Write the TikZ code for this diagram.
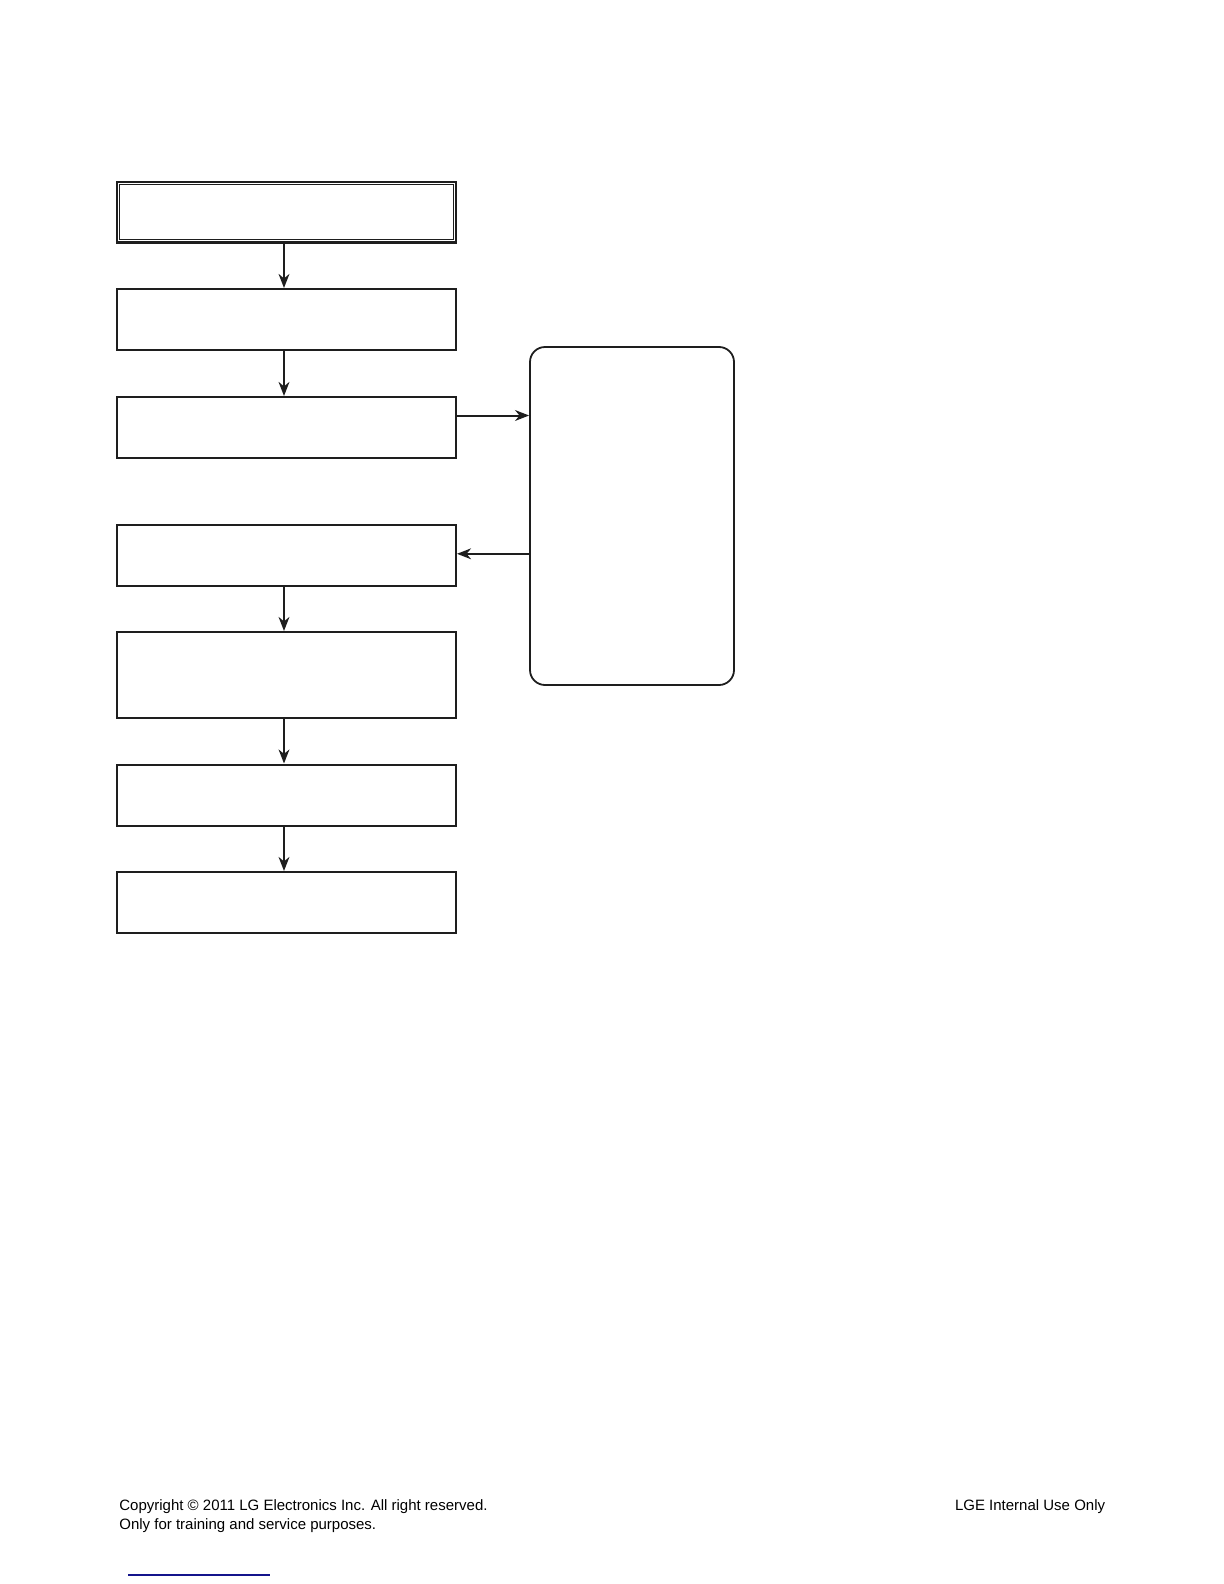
\documentclass[tikz,border=0pt]{standalone}
\usepackage{fontspec}
\setmainfont{Liberation Sans}
\usepackage{xcolor}
\usepackage{tikz}
\usetikzlibrary{positioning}
\usetikzlibrary{arrows.meta}

\definecolor{linegray}{RGB}{30,30,30}
\definecolor{linkblue}{RGB}{20,20,140}

\begin{document}
\begin{tikzpicture}
  [
    x=0.5pt, y=-0.5pt,
    stepbox/.style={
       draw=linegray,
       line width=1pt,
       minimum width=169.5pt,
       minimum height=30.5pt,
       inner sep=0pt
    },
    headbox/.style={
       stepbox,
       line width=1.1pt,
       minimum width=169.4pt,
       minimum height=30.4pt
    },
    sidebox/.style={
       draw=linegray,
       line width=0.9pt,
       rounded corners=7.5pt,
       minimum width=102pt,
       minimum height=169pt,
       inner sep=0pt
    },
    ld/.style={
       draw=linegray,
       line width=1pt,
       -{Stealth[length=7pt,width=5.4pt,inset=2.2pt]}
    },
    foot/.style={
       font=\fontsize{7.5}{9.5}\selectfont,
       inner sep=0pt
    }
  ]
  \useasboundingbox (0,0) rectangle (1224,1584);

  \node (b1) at (286.5,212)   [headbox] {};
  \node (b2) at (286.5,319.5) [stepbox] {};
  \node (b3) at (286.5,427.5) [stepbox] {};
  \node (b4) at (286.5,555)   [stepbox] {};
  \node (b5) at (286.5,675)   [stepbox, minimum height=43pt] {};
  \node (b6) at (286.5,795)   [stepbox] {};
  \node (b7) at (286.5,902.5) [stepbox] {};
  \node (rb) at (632,516)     [sidebox] {};

  % inner line of the double frame
  \draw [linegray, line width=0.5pt]
    ([shift={(1.9pt,-1.9pt)}]b1.north west) rectangle ([shift={(-1.9pt,1.9pt)}]b1.south east);

  \draw [ld] ([xshift=-1.25pt]b1.south) -- ([xshift=-1.25pt]b2.north);
  \draw [ld] ([xshift=-1.25pt]b2.south) -- ([xshift=-1.25pt]b3.north);
  \draw [ld] ([xshift=-1.25pt]b4.south) -- ([xshift=-1.25pt]b5.north);
  \draw [ld] ([xshift=-1.25pt]b5.south) -- ([xshift=-1.25pt]b6.north);
  \draw [ld] ([xshift=-1.25pt]b6.south) -- ([xshift=-1.25pt]b7.north);

  \draw [ld] ([yshift=6pt]b3.east) -- ([yshift=6pt]b3.east -| rb.west);
  \draw [ld] ([yshift=0.6pt]b4.east -| rb.west) -- ([yshift=0.6pt]b4.east);

  % footer
  \node (copy) at (119,1529) [foot, anchor=base west, align=left]
    {Copyright \textcopyright{} 2011 LG Electronics Inc. All right reserved.\\
     Only for training and service purposes.};
  \node (lge) at (1105.5,1510) [foot, anchor=base east] {LGE Internal Use Only};

  \coordinate (ul1) at (128,1575);
  \coordinate (ul2) at (270,1575);
  \draw [linkblue, line width=0.6pt] (ul1) -- (ul2);
\end{tikzpicture}
\end{document}
